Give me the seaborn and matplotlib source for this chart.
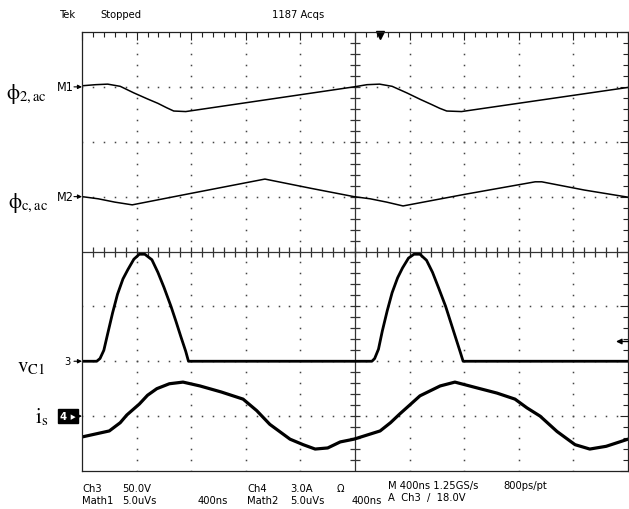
# -*- coding: utf-8 -*-
"""
Tek scope capture: phi_2,ac / phi_c,ac (Math1/Math2), v_C1 (Ch3), i_s (Ch4)
"""

import numpy as np
import pandas as pd
import matplotlib.pyplot as plt
import seaborn as sns
from matplotlib.ticker import MultipleLocator

# screen units: x in divisions (400 ns/div), y in divisions (0 = centre line)
t_phi2 = [0, 0.25, 0.47, 0.7, 0.95, 1.2, 1.39, 1.55, 1.68, 1.9,
          4.98, 5.22, 5.45, 5.68, 5.95, 6.2, 6.4, 6.55, 6.68, 6.95, 10.0]
v_phi2 = [3.02, 3.04, 3.05, 3.01, 2.89, 2.78, 2.7, 2.62, 2.56, 2.55,
          3.0, 3.04, 3.05, 3.01, 2.89, 2.77, 2.68, 2.61, 2.56, 2.55, 2.99]

t_phic = [0, 0.3, 0.6, 0.92, 2.0, 3.35, 4.2, 4.98,
          5.28, 5.58, 5.88, 7.0, 8.3, 8.42, 9.2, 10.0]
v_phic = [1.0, 0.96, 0.9, 0.85, 1.06, 1.32, 1.15, 1.0,
          0.96, 0.9, 0.83, 1.04, 1.27, 1.27, 1.12, 0.99]

t_vc1 = [0, 0.27, 0.33, 0.4, 0.47, 0.56, 0.65, 0.75, 0.84, 0.95, 1.05, 1.15,
         1.28, 1.39, 1.5, 1.63, 1.72, 1.81, 1.9, 1.95,
         5.31, 5.36, 5.43, 5.5, 5.59, 5.68, 5.78, 5.87, 5.98, 6.08, 6.19,
         6.31, 6.42, 6.53, 6.66, 6.75, 6.84, 6.93, 6.98, 10.0]
v_vc1 = [-2.0, -2.0, -1.95, -1.8, -1.5, -1.12, -0.78, -0.5, -0.33, -0.14, -0.05, -0.05,
         -0.15, -0.38, -0.65, -1.0, -1.27, -1.55, -1.82, -2.0,
         -2.0, -1.95, -1.78, -1.45, -1.08, -0.75, -0.48, -0.3, -0.12, -0.05, -0.05,
         -0.16, -0.38, -0.66, -1.0, -1.28, -1.56, -1.84, -2.0, -2.0]

t_is = [0, 0.5, 0.7, 0.82, 1.05, 1.2, 1.37, 1.6, 1.85, 2.16, 2.55, 2.95, 3.2, 3.44,
        3.81, 4.05, 4.27, 4.5, 4.73, 4.98, 5.46, 5.65, 5.82, 6.0, 6.19, 6.56, 6.83,
        7.29, 7.6, 7.93, 8.15, 8.39, 8.7, 9.03, 9.3, 9.6, 10.0]
v_is = [-3.38, -3.27, -3.12, -2.98, -2.78, -2.62, -2.5, -2.41, -2.38, -2.45, -2.56, -2.69,
        -2.9, -3.15, -3.42, -3.52, -3.6, -3.58, -3.47, -3.42, -3.27, -3.12, -2.96, -2.8,
        -2.63, -2.45, -2.38, -2.5, -2.58, -2.69, -2.85, -3.0, -3.28, -3.52, -3.6, -3.55,
        -3.42]

ref_levels = {'M1': 3.0, 'M2': 1.0, '3': -2.0, '4': -3.0}
trig_level = -1.64
trig_pos = 5.46

top_txt = [('Tek', 60), ('Stopped', 100), ('1187 Acqs', 272)]
row1 = [('Ch3', 82), ('50.0V', 122), ('Ch4', 247), ('3.0A', 290), ('Ω', 337),
        ('M 400ns 1.25GS/s', 388), ('800ps/pt', 503)]
row2 = [('Math1', 82), ('5.0uVs', 122), ('400ns', 198), ('Math2', 247),
        ('5.0uVs', 290), ('400ns', 352), ('A  Ch3  /  18.0V', 388)]

sns.set_style("white")
plt.rcParams['font.family'] = ['DejaVu Sans']
plt.rcParams['font.stretch'] = 'condensed'
plt.rcParams['text.color'] = 'black'
plt.rcParams['mathtext.fontset'] = 'stix'

W, H = 629, 510
fx = lambda px: px / W
fy = lambda py: 1 - py / H

fig = plt.figure(figsize=(W / 100, H / 100), dpi=100)
ax = fig.add_axes([82 / W, 38 / H, 546 / W, 439 / H])
ax.set_xlim(0, 10)
ax.set_ylim(-4, 4)

# graticule: dotted majors, solid centre cross with ticks
sub = np.round(np.arange(0, 10.01, 0.2), 2)
suby = np.round(np.arange(-4, 4.01, 0.2), 2)
for gx in range(1, 10):
    if gx != 5:
        ax.plot(np.full(len(suby), gx), suby, ls='none', marker='s', ms=1.1,
                color='#444444', mew=0)
for gy in range(-3, 4):
    if gy != 0:
        ax.plot(sub, np.full(len(sub), gy), ls='none', marker='s', ms=1.1,
                color='#444444', mew=0)
ax.axhline(0, color='#333333', lw=0.9)
ax.axvline(5, color='#333333', lw=0.9)
ax.plot(sub[1:-1], np.zeros(len(sub) - 2), ls='none', marker='|', ms=7,
        mew=0.9, color='#333333')
ax.plot(np.full(len(suby) - 2, 5), suby[1:-1], ls='none', marker='_', ms=7,
        mew=0.9, color='#333333')

for s in ax.spines.values():
    s.set_linewidth(0.9)
    s.set_color('#222222')
ax.xaxis.set_major_locator(MultipleLocator(1))
ax.xaxis.set_minor_locator(MultipleLocator(0.2))
ax.yaxis.set_major_locator(MultipleLocator(1))
ax.yaxis.set_minor_locator(MultipleLocator(0.2))
ax.tick_params(which='both', direction='in', top=True, right=True,
               labelleft=False, labelbottom=False, width=0.8, color='#222222')
ax.tick_params(which='major', length=6)
ax.tick_params(which='minor', length=3.3)

# traces
traces = [(t_phi2, v_phi2, 1.1), (t_phic, v_phic, 1.1),
          (t_vc1, v_vc1, 2.0), (t_is, v_is, 2.3)]
for t, v, lw in traces:
    df = pd.DataFrame({'t': t, 'v': v})
    sns.lineplot(data=df, x='t', y='v', ax=ax, color='black', lw=lw,
                 sort=False, estimator=None)
ax.set_xlabel('')
ax.set_ylabel('')

# reference markers on the left edge
for name, lvl in ref_levels.items():
    ax.annotate('', xy=(0, lvl), xytext=(-8, 0), textcoords='offset pixels',
                arrowprops=dict(arrowstyle='-|>', lw=0.8, color='black',
                                mutation_scale=6, shrinkA=0, shrinkB=0),
                annotation_clip=False)
py_lvl = lambda lvl: 252.5 - lvl * 54.875
fig.text(fx(74), fy(py_lvl(3.0)), 'M1', ha='right', va='center', fontsize=9)
fig.text(fx(74), fy(py_lvl(1.0)), 'M2', ha='right', va='center', fontsize=9)
fig.text(fx(71), fy(py_lvl(-2.0)), '3', ha='right', va='center', fontsize=8)
fig.text(fx(60), fy(py_lvl(-3.0)), '4 \u25b8', ha='left', va='center', fontsize=8,
         color='white', fontweight='bold',
         bbox=dict(boxstyle='square,pad=0.2', fc='black', ec='black'))

# trigger markers
ax.annotate('', xy=(9.78, trig_level), xytext=(10.02, trig_level),
            arrowprops=dict(arrowstyle='-|>', lw=1.0, color='black',
                            mutation_scale=8, shrinkA=0, shrinkB=0),
            annotation_clip=False)
ax.plot([trig_pos], [3.95], marker='v', ms=6, color='black', clip_on=False)

# trace names
fig.text(fx(6), fy(94), r'$\mathrm{\phi}_{\mathrm{2,ac}}$', fontsize=15, va='center')
fig.text(fx(8), fy(203), r'$\mathrm{\phi}_{\mathrm{c,ac}}$', fontsize=15, va='center')
fig.text(fx(17), fy(367), r'$\mathrm{v}_{\mathrm{C1}}$', fontsize=15, va='center')
fig.text(fx(35), fy(417), r'$\mathrm{i}_{\mathrm{s}}$', fontsize=15, va='center')

# status text
for s, px in top_txt:
    fig.text(fx(px), fy(15), s, fontsize=8, va='center')
for s, px in row1:
    fig.text(fx(px), fy(489 if px < 380 else 486), s, fontsize=8, va='center')
for s, px in row2:
    fig.text(fx(px), fy(501 if px < 380 else 498), s, fontsize=8, va='center')

fig.savefig('out.png', dpi=100)
